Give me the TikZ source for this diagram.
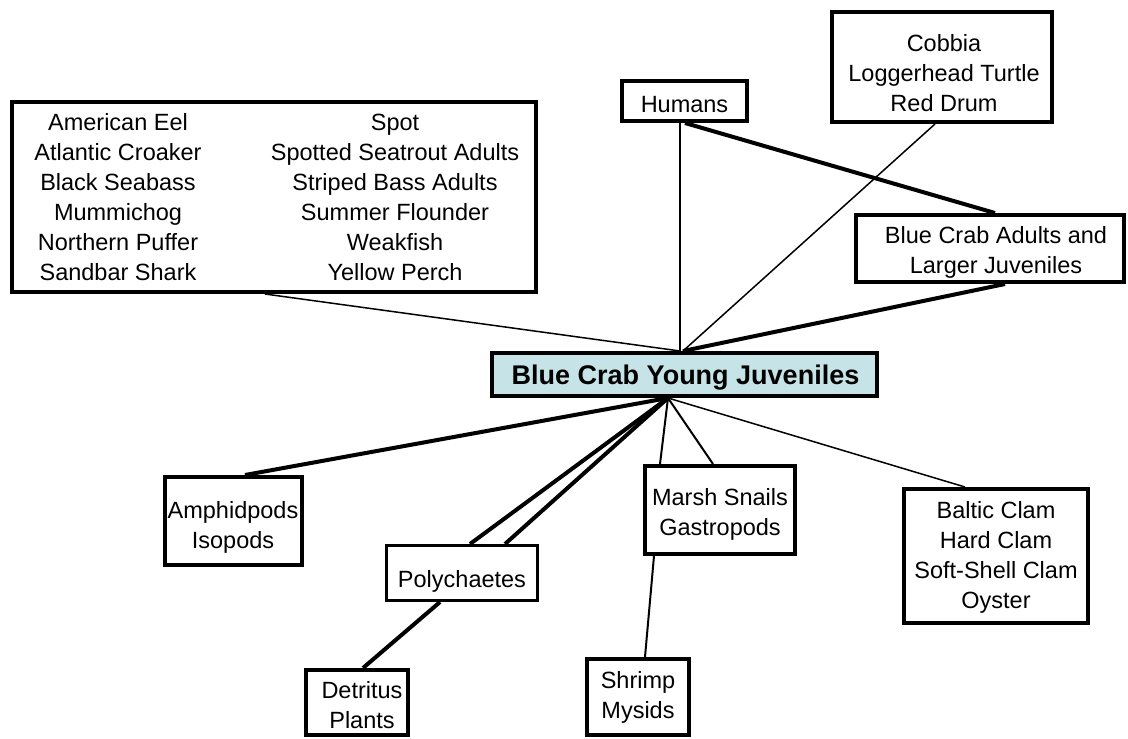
\documentclass[tikz,border=0pt]{standalone}
\usepackage{fontspec}
\setmainfont{Liberation Sans}
\usetikzlibrary{backgrounds}
\definecolor{ycfill}{RGB}{198,228,232}
\begin{document}
\begin{tikzpicture}[x=1pt,y=-1pt,
  box/.style={draw, line width=4pt, fill=white, inner sep=0pt},
  txt/.style={inner sep=0pt, align=center, font=\fontsize{23.5}{30}\selectfont,
    execute at begin node=\strut, execute at end node=\strut},
  lthin/.style={line width=1.5pt},
  lmed/.style={line width=2pt},
  lthick/.style={line width=4pt}]
\useasboundingbox (0,0) rectangle (1128,739);
% boxes
\node[box, minimum width=524pt, minimum height=190pt] (fish) at (274,197) {};
\node[box, minimum width=125pt, minimum height=40pt] (humans) at (684.5,101) {};
\node[box, minimum width=220pt, minimum height=110pt] (cobbia) at (942,67) {};
\node[box, minimum width=268pt, minimum height=67pt] (adults) at (990,248.5) {};
\node[box, fill=ycfill, minimum width=385pt, minimum height=43pt] (yc) at (684.5,374.5) {};
\node[box, minimum width=137pt, minimum height=88pt] (amph) at (233.5,521) {};
\node[box, line width=3pt, minimum width=151pt, minimum height=55pt] (poly) at (462,573) {};
\node[box, minimum width=102pt, minimum height=65pt] (det) at (357,702.5) {};
\node[box, minimum width=150pt, minimum height=88pt] (marsh) at (720,510) {};
\node[box, minimum width=102pt, minimum height=76pt] (shrimp) at (638,697) {};
\node[box, minimum width=184pt, minimum height=134pt] (baltic) at (996,556) {};
% texts
\node[txt] (fishL) at (118,201.4) {American Eel\\Atlantic Croaker\\Black Seabass\\Mummichog\\Northern Puffer\\Sandbar Shark};
\node[txt] (fishR) at (395,201.4) {Spot\\Spotted Seatrout Adults\\Striped Bass Adults\\Summer Flounder\\Weakfish\\Yellow Perch};
\node[txt] (humansT) at (684.5,106) {Humans};
\node[txt] (cobbiaT) at (944,77.4) {Cobbia\\Loggerhead Turtle\\Red Drum};
\node[txt] (adultsT) at (996,254.9) {Blue Crab Adults and\\Larger Juveniles};
\node[inner sep=0pt, font=\fontsize{27}{30}\selectfont\bfseries, text height=19.4pt, text depth=0pt] (ycT) at (685.5,375) {Blue Crab Young Juveniles};
\node[txt] (amphT) at (233,529.4) {Amphidpods\\Isopods};
\node[txt] (polyT) at (462,581) {Polychaetes};
\node[txt] (detT) at (362,709.4) {Detritus\\Plants};
\node[txt] (marshT) at (720,516.4) {Marsh Snails\\Gastropods};
\node[txt] (shrimpT) at (638,699.4) {Shrimp\\Mysids};
\node[txt] (balticT) at (996,559.4) {Baltic Clam\\Hard Clam\\Soft-Shell Clam\\Oyster};
% connectors
\begin{pgfonlayer}{background}
\draw[lthin] ([xshift=-9pt]fish.south) -- ([xshift=-4.5pt]yc.north);
\draw[lthin] ([xshift=-4.5pt]humans.south) -- ([xshift=-4.5pt]yc.north);
\draw[lthin] ([xshift=-7pt]cobbia.south) -- ([xshift=-1.5pt]yc.north);
\draw[lthick] ([xshift=0.5pt]humans.south) -- ([xshift=5pt]adults.north);
\draw[lthick] ([xshift=15pt]adults.south) -- ([xshift=-1.5pt]yc.north);
\draw[lthick] ([xshift=-16.5pt]yc.south) -- ([xshift=11.5pt]amph.north);
\draw[lthick] ([xshift=-16.5pt]yc.south) -- ([xshift=8pt]poly.north);
\draw[lthick] ([xshift=-16.5pt]yc.south) -- ([xshift=43pt]poly.north);
\draw[lthick] ([xshift=-22pt]poly.south) -- ([xshift=6pt]det.north);
\draw[lmed] ([xshift=-16.5pt]yc.south) -- ([xshift=-60pt]marsh.north);
\draw[lmed] ([xshift=-16.5pt]yc.south) -- ([xshift=-7pt]marsh.north);
\draw[lmed] ([xshift=-66pt]marsh.south) -- ([xshift=7pt]shrimp.north);
\draw[lthin] ([xshift=-16.5pt]yc.south) -- ([xshift=-31pt]baltic.north);
\end{pgfonlayer}
\end{tikzpicture}
\end{document}
